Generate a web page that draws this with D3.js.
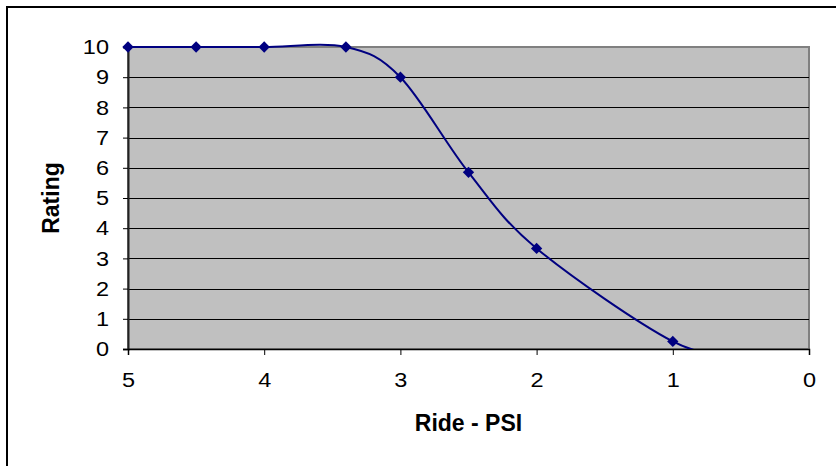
<!DOCTYPE html>
<html><head><meta charset="utf-8">
<script src="https://cdn.jsdelivr.net/npm/d3@7"></script>
<style>
html,body{margin:0;padding:0;background:#fff;}
svg text{font-family:Arial,"Liberation Sans",sans-serif;}
</style></head>
<body>
<svg id="chart" width="836" height="466"></svg>
<script>
// Data
const psi    = [5, 4.5, 4, 3.4, 3, 2.5, 2, 1, 0.5];
const rating = [10, 10, 10, 10, 9, 5.85, 3.33, 0.25, -0.2];
const xTicks = [5, 4, 3, 2, 1, 0];
const yTicks = [0,1,2,3,4,5,6,7,8,9,10];
const xTitle = "Ride - PSI";
const yTitle = "Rating";

const W = 836, H = 466;
const m = {left:128, right:809, top:47, bottom:349};
const sx = 1.12;
const svg = d3.select("#chart");

// outer border
svg.append("rect").attr("x",7).attr("y",7).attr("width",W+10).attr("height",H+10)
  .attr("fill","#fff").attr("stroke","#000").attr("stroke-width",2);

const x = d3.scaleLinear().domain([5,0]).range([m.left, m.right]);
const y = d3.scaleLinear().domain([0,10]).range([m.bottom, m.top]);

// plot area
svg.append("rect").attr("x",m.left).attr("y",m.top)
  .attr("width",m.right-m.left).attr("height",m.bottom-m.top)
  .attr("fill","#C0C0C0").attr("stroke","#808080").attr("stroke-width",2);

// gridlines
svg.append("g").selectAll("line").data(yTicks.filter(d=>d>0 && d<10)).join("line")
  .attr("x1",m.left).attr("x2",m.right)
  .attr("y1",d=>Math.round(y(d))+0.5).attr("y2",d=>Math.round(y(d))+0.5)
  .attr("stroke","#000").attr("stroke-width",1);

// y axis
const yAxis = svg.append("g").attr("transform",`translate(${m.left},0)`)
  .call(d3.axisLeft(y).tickValues(yTicks).tickSize(5).tickPadding(12).tickFormat(d3.format("d")));
yAxis.select(".domain").attr("stroke","#222").attr("stroke-width",2);
yAxis.selectAll(".tick line").attr("stroke","#000");
yAxis.selectAll("text").attr("font-size",21).attr("fill","#000")
  .attr("x",-19/sx).attr("transform",`scale(${sx},1)`);

// x axis
const xAxis = svg.append("g").attr("transform",`translate(0,${m.bottom})`)
  .call(d3.axisBottom(x).tickValues(xTicks).tickSize(6).tickPadding(17).tickFormat(d3.format("d")));
xAxis.select(".domain").attr("stroke","#000").attr("stroke-width",1.5);
xAxis.selectAll(".tick line").attr("stroke","#000");
xAxis.selectAll("text").attr("font-size",21).attr("fill","#000").attr("transform",`scale(${sx},1)`);

// clip
svg.append("clipPath").attr("id","clip").append("rect")
  .attr("x",m.left-6).attr("y",m.top-6).attr("width",m.right-m.left+12).attr("height",m.bottom-m.top+6);

const pts = psi.map((p,i)=>[p, rating[i]]);
const line = d3.line().x(d=>x(d[0])).y(d=>y(d[1])).curve(d3.curveCardinal.tension(0));

svg.append("path").attr("clip-path","url(#clip)")
  .datum(pts).attr("d",line).attr("fill","none").attr("stroke","#000080").attr("stroke-width",2);

// markers (only in range)
const marker = d3.symbol().type(d3.symbolSquare).size(64);
svg.append("g").selectAll("path").data(pts.filter(d=>d[1]>=0 && d[1]<=10)).join("path")
  .attr("d",marker).attr("transform",d=>`translate(${x(d[0])},${y(d[1])}) rotate(45)`)
  .attr("fill","#000080");

// titles
svg.append("text").attr("x",(m.left+m.right)/2).attr("y",431).attr("text-anchor","middle")
  .attr("font-size",23).attr("font-weight","bold").text(xTitle);
svg.append("text").attr("transform",`translate(59,${(m.top+m.bottom)/2}) rotate(-90)`)
  .attr("text-anchor","middle").attr("font-size",23).attr("font-weight","bold").text(yTitle);
</script>
</body></html>
